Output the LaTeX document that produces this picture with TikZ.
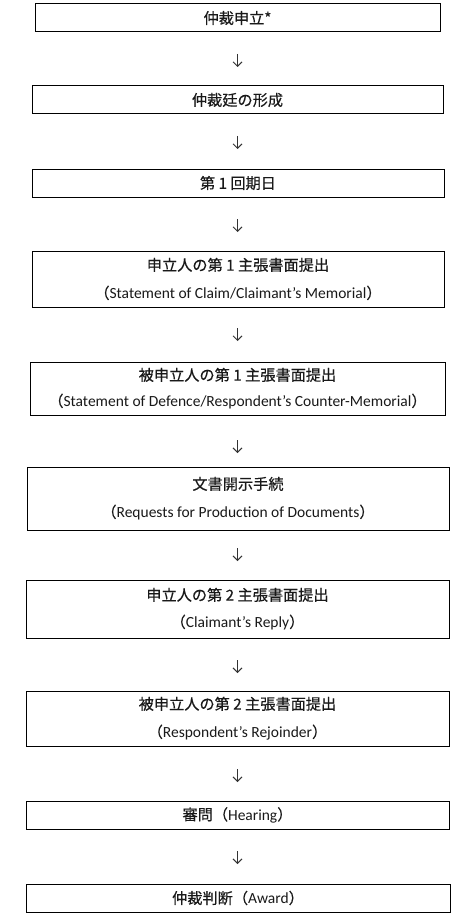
\documentclass[tikz,border=0pt]{standalone}
\usepackage{fontspec}
\setmainfont{Carlito}
\newfontfamily\jp[FakeBold=0.4,Scale=0.98]{Noto Sans CJK JP}
\usetikzlibrary{arrows.meta}
\tikzset{
  x=1pt, y=-1pt,
  stepbox/.style={draw=black, line width=1pt, inner sep=0pt, align=center,
    minimum height=28, font=\fontsize{15.5}{28}\selectfont, text=black!90},
  arr/.style={line width=0.9pt, draw=black!80, -{Straight Barb[length=4.5pt,width=9pt,line width=0.9pt]}}
}
\begin{document}
\begin{tikzpicture}
\useasboundingbox (0,0) rectangle (466,915);
\fill[white] (0,0) rectangle (466,915);
\node[stepbox, minimum width=405, minimum height=28] (b1) at (237.5,18) {{\jp 仲裁申立*}};
\node[stepbox, minimum width=411, minimum height=28] (b2) at (237.5,100) {{\jp 仲裁廷の形成}};
\node[stepbox, minimum width=412, minimum height=28] (b3) at (238,183) {{\jp 第 1 回期日}};
\node[stepbox, minimum width=412, minimum height=56] (b4) at (238,279) {{\jp 申立人の第 1 主張書面提出}\\{\jp （}Statement of Claim/Claimant’s Memorial{\jp ）}};
\node[stepbox, minimum width=415, minimum height=53, font=\fontsize{15.5}{26}\selectfont] (b5) at (237.5,388.5) {{\jp 被申立人の第 1 主張書面提出}\\{\jp （}Statement of Defence/Respondent’s Counter-Memorial{\jp ）}};
\node[stepbox, minimum width=422, minimum height=63] (b6) at (238,498.5) {{\jp 文書開示手続}\\{\jp （}Requests for Production of Documents{\jp ）}};
\node[stepbox, minimum width=423, minimum height=58, font=\fontsize{15.5}{27}\selectfont] (b7) at (237.5,609) {{\jp 申立人の第 2 主張書面提出}\\{\jp （}Claimant’s Reply{\jp ）}};
\node[stepbox, minimum width=423, minimum height=55] (b8) at (237.5,718.5) {{\jp 被申立人の第 2 主張書面提出}\\{\jp （}Respondent’s Rejoinder{\jp ）}};
\node[stepbox, minimum width=423, minimum height=28] (b9) at (237.5,815) {{\jp 審問（}Hearing{\jp ）}};
\node[stepbox, minimum width=424, minimum height=28] (b10) at (238,898) {{\jp 仲裁判断（}Award{\jp ）}};
\coordinate (a1s) at (237.5,54); \coordinate (a1e) at (237.5,67);
\coordinate (a2s) at (237.5,136); \coordinate (a2e) at (237.5,149);
\coordinate (a3s) at (237.5,219); \coordinate (a3e) at (237.5,232);
\coordinate (a4s) at (237.5,328); \coordinate (a4e) at (237.5,341);
\coordinate (a5s) at (237.5,440); \coordinate (a5e) at (237.5,453);
\coordinate (a6s) at (237.5,548); \coordinate (a6e) at (237.5,561);
\coordinate (a7s) at (237.5,660); \coordinate (a7e) at (237.5,673);
\coordinate (a8s) at (237.5,769); \coordinate (a8e) at (237.5,782);
\coordinate (a9s) at (237.5,851); \coordinate (a9e) at (237.5,864);
\foreach \i in {1,...,9} { \draw[arr] (a\i s) -- (a\i e); }
\end{tikzpicture}
\end{document}
